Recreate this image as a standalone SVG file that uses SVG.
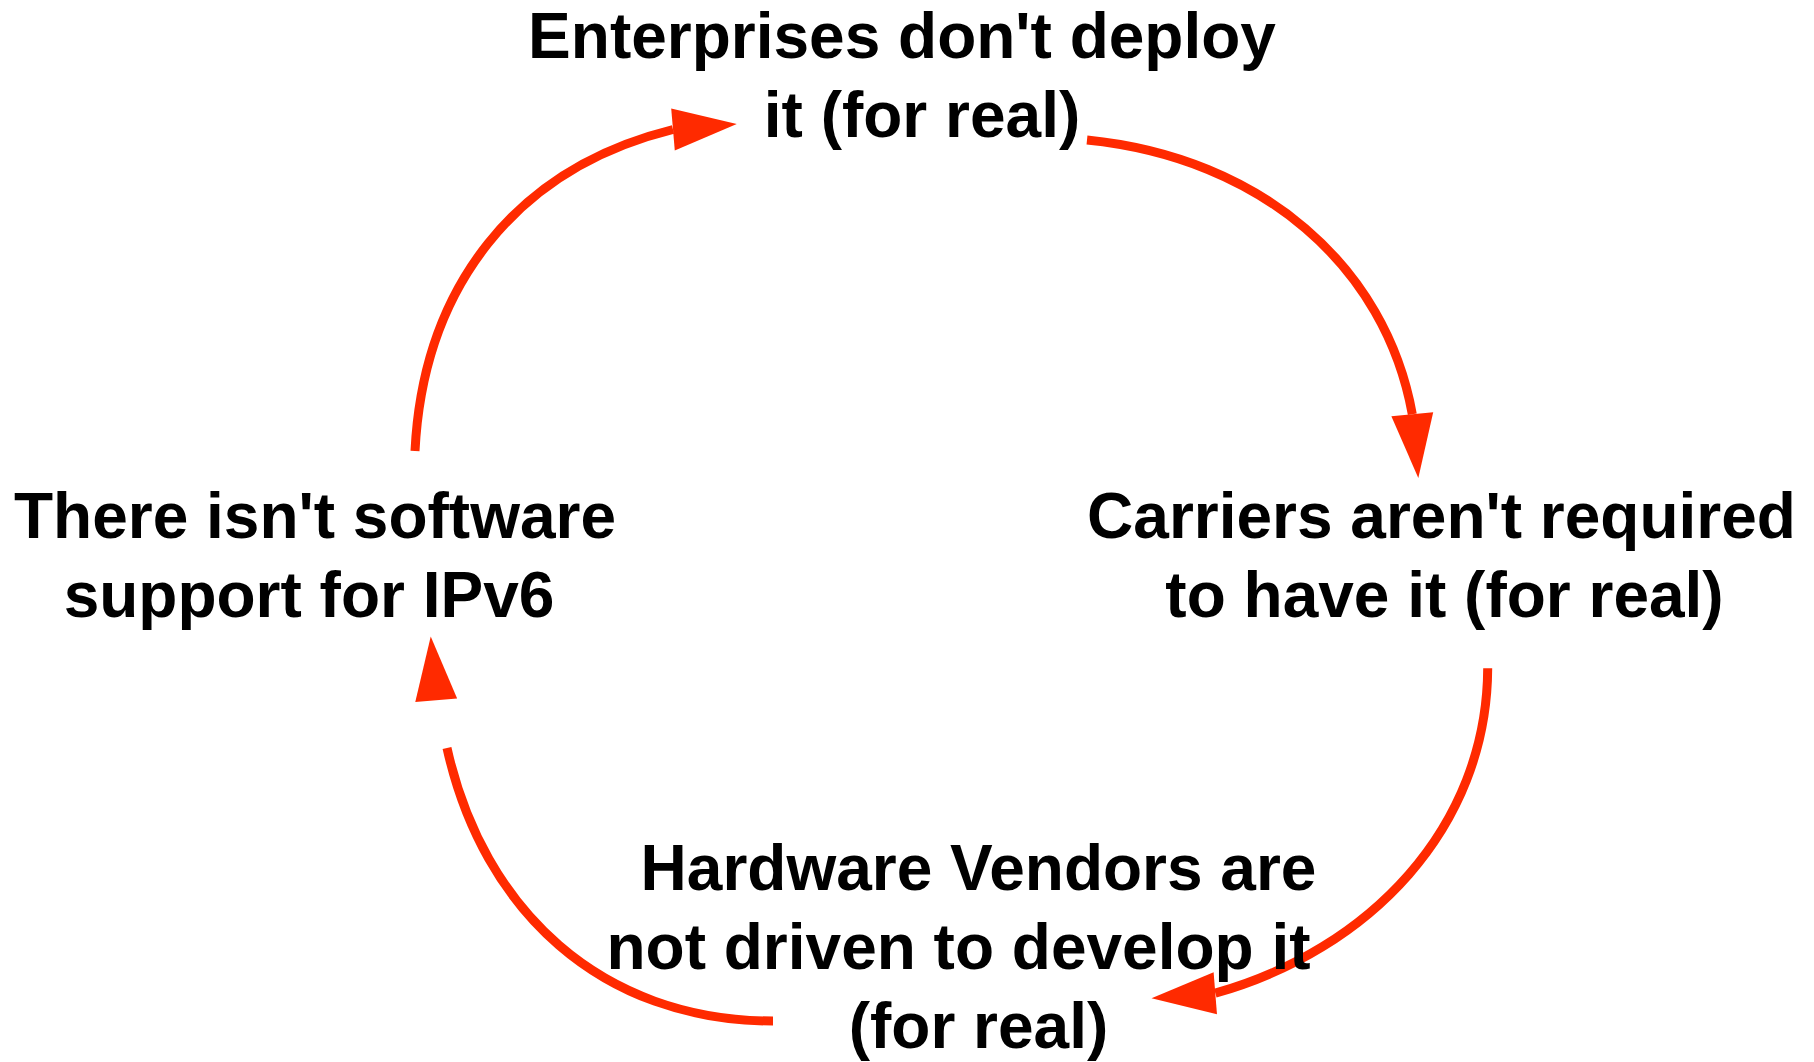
<svg xmlns="http://www.w3.org/2000/svg" xmlns:xlink="http://www.w3.org/1999/xlink" width="1814" height="1062" viewBox="0 0 1814 1062">
  <style>
    .lbl { font-family: "Liberation Sans", Arial, Helvetica, sans-serif; font-weight: bold; font-size: 64px; fill: #000; text-anchor: middle; }
    .edge { fill: none; stroke: #ff2a00; stroke-width: 9; stroke-linecap: butt; }
    .head { fill: #ff2a00; stroke: none; }
  </style>
  <defs>
    <path id="ah" d="M0,-21 L64,0 L0,21 Z"/>
  </defs>
  <rect width="1814" height="1062" fill="#fff"/>

  <g id="connectors">
    <path class="edge" d="M415,451 C423.15,288 514.9,168.6 673,129.5"/>
    <use class="head" xlink:href="#ah" href="#ah" transform="translate(673,129.5) rotate(-4.9)"/>

    <path class="edge" d="M1087,140 C1262,157.5 1385.6,266.6 1412.3,414.2"/>
    <use class="head" xlink:href="#ah" href="#ah" transform="translate(1412.3,414.2) rotate(84.6)"/>

    <path class="edge" d="M1487.7,668.3 C1487,828 1368.9,950 1215.3,993.2"/>
    <use class="head" xlink:href="#ah" href="#ah" transform="translate(1215.3,993.2) rotate(175.4)"/>

    <path class="edge" d="M773,1021 C601,1021 483,910 447,748"/>
    <use class="head" xlink:href="#ah" href="#ah" transform="translate(436.2,700.3) rotate(-94.9)"/>
  </g>

  <g id="node-enterprises">
    <text class="lbl" x="902" y="58">Enterprises don't deploy</text>
    <text class="lbl" x="922" y="137">it (for real)</text>
  </g>
  <g id="node-carriers">
    <text class="lbl" x="1441.5" y="538">Carriers aren't required</text>
    <text class="lbl" x="1444.5" y="617">to have it (for real)</text>
  </g>
  <g id="node-hardware">
    <text class="lbl" x="978.5" y="890">Hardware Vendors are</text>
    <text class="lbl" x="958.5" y="969">not driven to develop it</text>
    <text class="lbl" x="978.5" y="1048">(for real)</text>
  </g>
  <g id="node-software">
    <text class="lbl" x="315" y="538">There isn't software</text>
    <text class="lbl" x="309" y="617">support for IPv6</text>
  </g>
</svg>
